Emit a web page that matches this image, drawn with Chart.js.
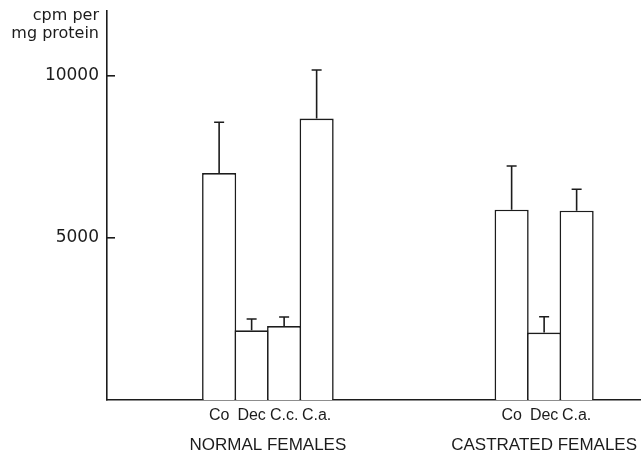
<!DOCTYPE html>
<html>
<head>
<meta charset="utf-8">
<script src="https://cdn.jsdelivr.net/npm/chart.js@4"></script>
<style>
  html, body { margin: 0; padding: 0; background: #fff; }
  canvas { display: block; }
</style>
</head>
<body>
<canvas id="chart" width="643" height="454"></canvas>
<script>
// ── Data ─────────────────────────────────────────────────────────────────────

const GROUPS = ['NORMAL FEMALES', 'CASTRATED FEMALES'];

const NORMAL_LABELS = ['Co', 'Dec', 'C.c.', 'C.a.'];
const NORMAL_MEANS  = [7000, 2150, 2280, 8680];
const NORMAL_ERRORS = [1570, 350, 280, 1500];

const CASTRATED_LABELS = ['Co', 'Dec', 'C.a.'];
const CASTRATED_MEANS  = [5870, 2080, 5840];
const CASTRATED_ERRORS = [1350, 490, 660];

const Y_TICKS = [5000, 10000];
const Y_TITLE = ['cpm per', 'mg protein'];

// ── Layout (slot index of each group's first bar) ────────────────────────────

const GROUP_START = [3, 12];
const X_MIN = -0.45, X_MAX = 15.95;

const C_INK = '#1c1c1c';

function slots(start, n) { return Array.from({ length: n }, (_, i) => start + i); }

const normalX    = slots(GROUP_START[0], NORMAL_LABELS.length);
const castratedX = slots(GROUP_START[1], CASTRATED_LABELS.length);

const barTicks   = normalX.concat(castratedX);
const barLabels  = NORMAL_LABELS.concat(CASTRATED_LABELS);
const groupTicks = [
  GROUP_START[0] + (NORMAL_LABELS.length - 1) / 2,
  GROUP_START[1] + (CASTRATED_LABELS.length - 1) / 2,
];

function barDataset(xs, means, errors) {
  return {
    data: xs.map((x, i) => ({ x, y: means[i] })),
    errors,
    grouped: false,
    backgroundColor: '#fff',
    borderColor: C_INK,
    borderWidth: 1.6,
    borderSkipped: 'bottom',
    barPercentage: 1.05,
    categoryPercentage: 1,
  };
}

// ── Plugins ──────────────────────────────────────────────────────────────────

const errorBars = {
  id: 'errorBars',
  afterDatasetsDraw(chart) {
    const { ctx, scales: { y } } = chart;
    ctx.save();
    ctx.strokeStyle = C_INK;
    ctx.lineWidth = 1.6;
    chart.data.datasets.forEach((ds, di) => {
      chart.getDatasetMeta(di).data.forEach((bar, i) => {
        const top = y.getPixelForValue(ds.data[i].y + ds.errors[i]);
        ctx.beginPath();
        ctx.moveTo(bar.x, bar.y);
        ctx.lineTo(bar.x, top);
        ctx.moveTo(bar.x - 5, top);
        ctx.lineTo(bar.x + 5, top);
        ctx.stroke();
      });
    });
    ctx.restore();
  }
};

const axisTitle = {
  id: 'axisTitle',
  afterDraw(chart) {
    const { ctx, scales: { y } } = chart;
    ctx.save();
    ctx.fillStyle = C_INK;
    ctx.font = '16px "DejaVu Sans"';
    ctx.textAlign = 'right';
    ctx.textBaseline = 'alphabetic';
    ctx.fillText(Y_TITLE[0], y.right - 8, 20);
    ctx.fillText(Y_TITLE[1], y.right - 8, 38);
    ctx.restore();
  }
};

// ── Chart ────────────────────────────────────────────────────────────────────

new Chart(document.getElementById('chart'), {
  type: 'bar',
  data: {
    datasets: [
      barDataset(normalX, NORMAL_MEANS, NORMAL_ERRORS),
      barDataset(castratedX, CASTRATED_MEANS, CASTRATED_ERRORS),
    ]
  },
  options: {
    responsive: false,
    animation: false,
    layout: { padding: { top: 11, right: 3, left: 0, bottom: 0 } },
    plugins: { legend: { display: false }, tooltip: { enabled: false } },
    scales: {
      x: {
        type: 'linear',
        offset: false,
        min: X_MIN,
        max: X_MAX,
        grid: { display: false, drawTicks: false, offset: false },
        border: { display: true, color: C_INK, width: 1.6 },
        afterBuildTicks: s => { s.ticks = barTicks.map(value => ({ value })); },
        afterFit: s => { s.height = 25; s.paddingLeft = 0; s.paddingRight = 0; },
        ticks: {
          autoSkip: false,
          maxRotation: 0,
          padding: 6,
          color: C_INK,
          font: { family: 'Liberation Sans', size: 16 },
          callback: (v, i) => barLabels[i],
        },
      },
      x2: {
        type: 'linear',
        position: 'bottom',
        offset: false,
        weight: 1,
        min: X_MIN,
        max: X_MAX,
        grid: { display: false, drawTicks: false, offset: false },
        border: { display: false },
        afterBuildTicks: s => { s.ticks = groupTicks.map(value => ({ value })); },
        afterFit: s => { s.height = 29; s.paddingLeft = 0; s.paddingRight = 0; },
        ticks: {
          autoSkip: false,
          maxRotation: 0,
          padding: 10,
          color: C_INK,
          font: { family: 'Liberation Sans', size: 17 },
          callback: (v, i) => GROUPS[i],
        },
      },
      y: {
        min: 0,
        max: 12000,
        grid: { drawOnChartArea: false, tickLength: -8, color: C_INK, lineWidth: 1.6 },
        border: { display: true, color: C_INK, width: 1.6 },
        afterBuildTicks: s => { s.ticks = Y_TICKS.map(value => ({ value })); },
        afterFit: s => { s.width = 107; s.paddingTop = 0; s.paddingBottom = 0; },
        ticks: {
          padding: 16,
          color: C_INK,
          font: { family: 'DejaVu Sans', size: 17 },
          callback: v => String(v),
        },
      },
    }
  },
  plugins: [errorBars, axisTitle]
});
</script>
</body>
</html>
